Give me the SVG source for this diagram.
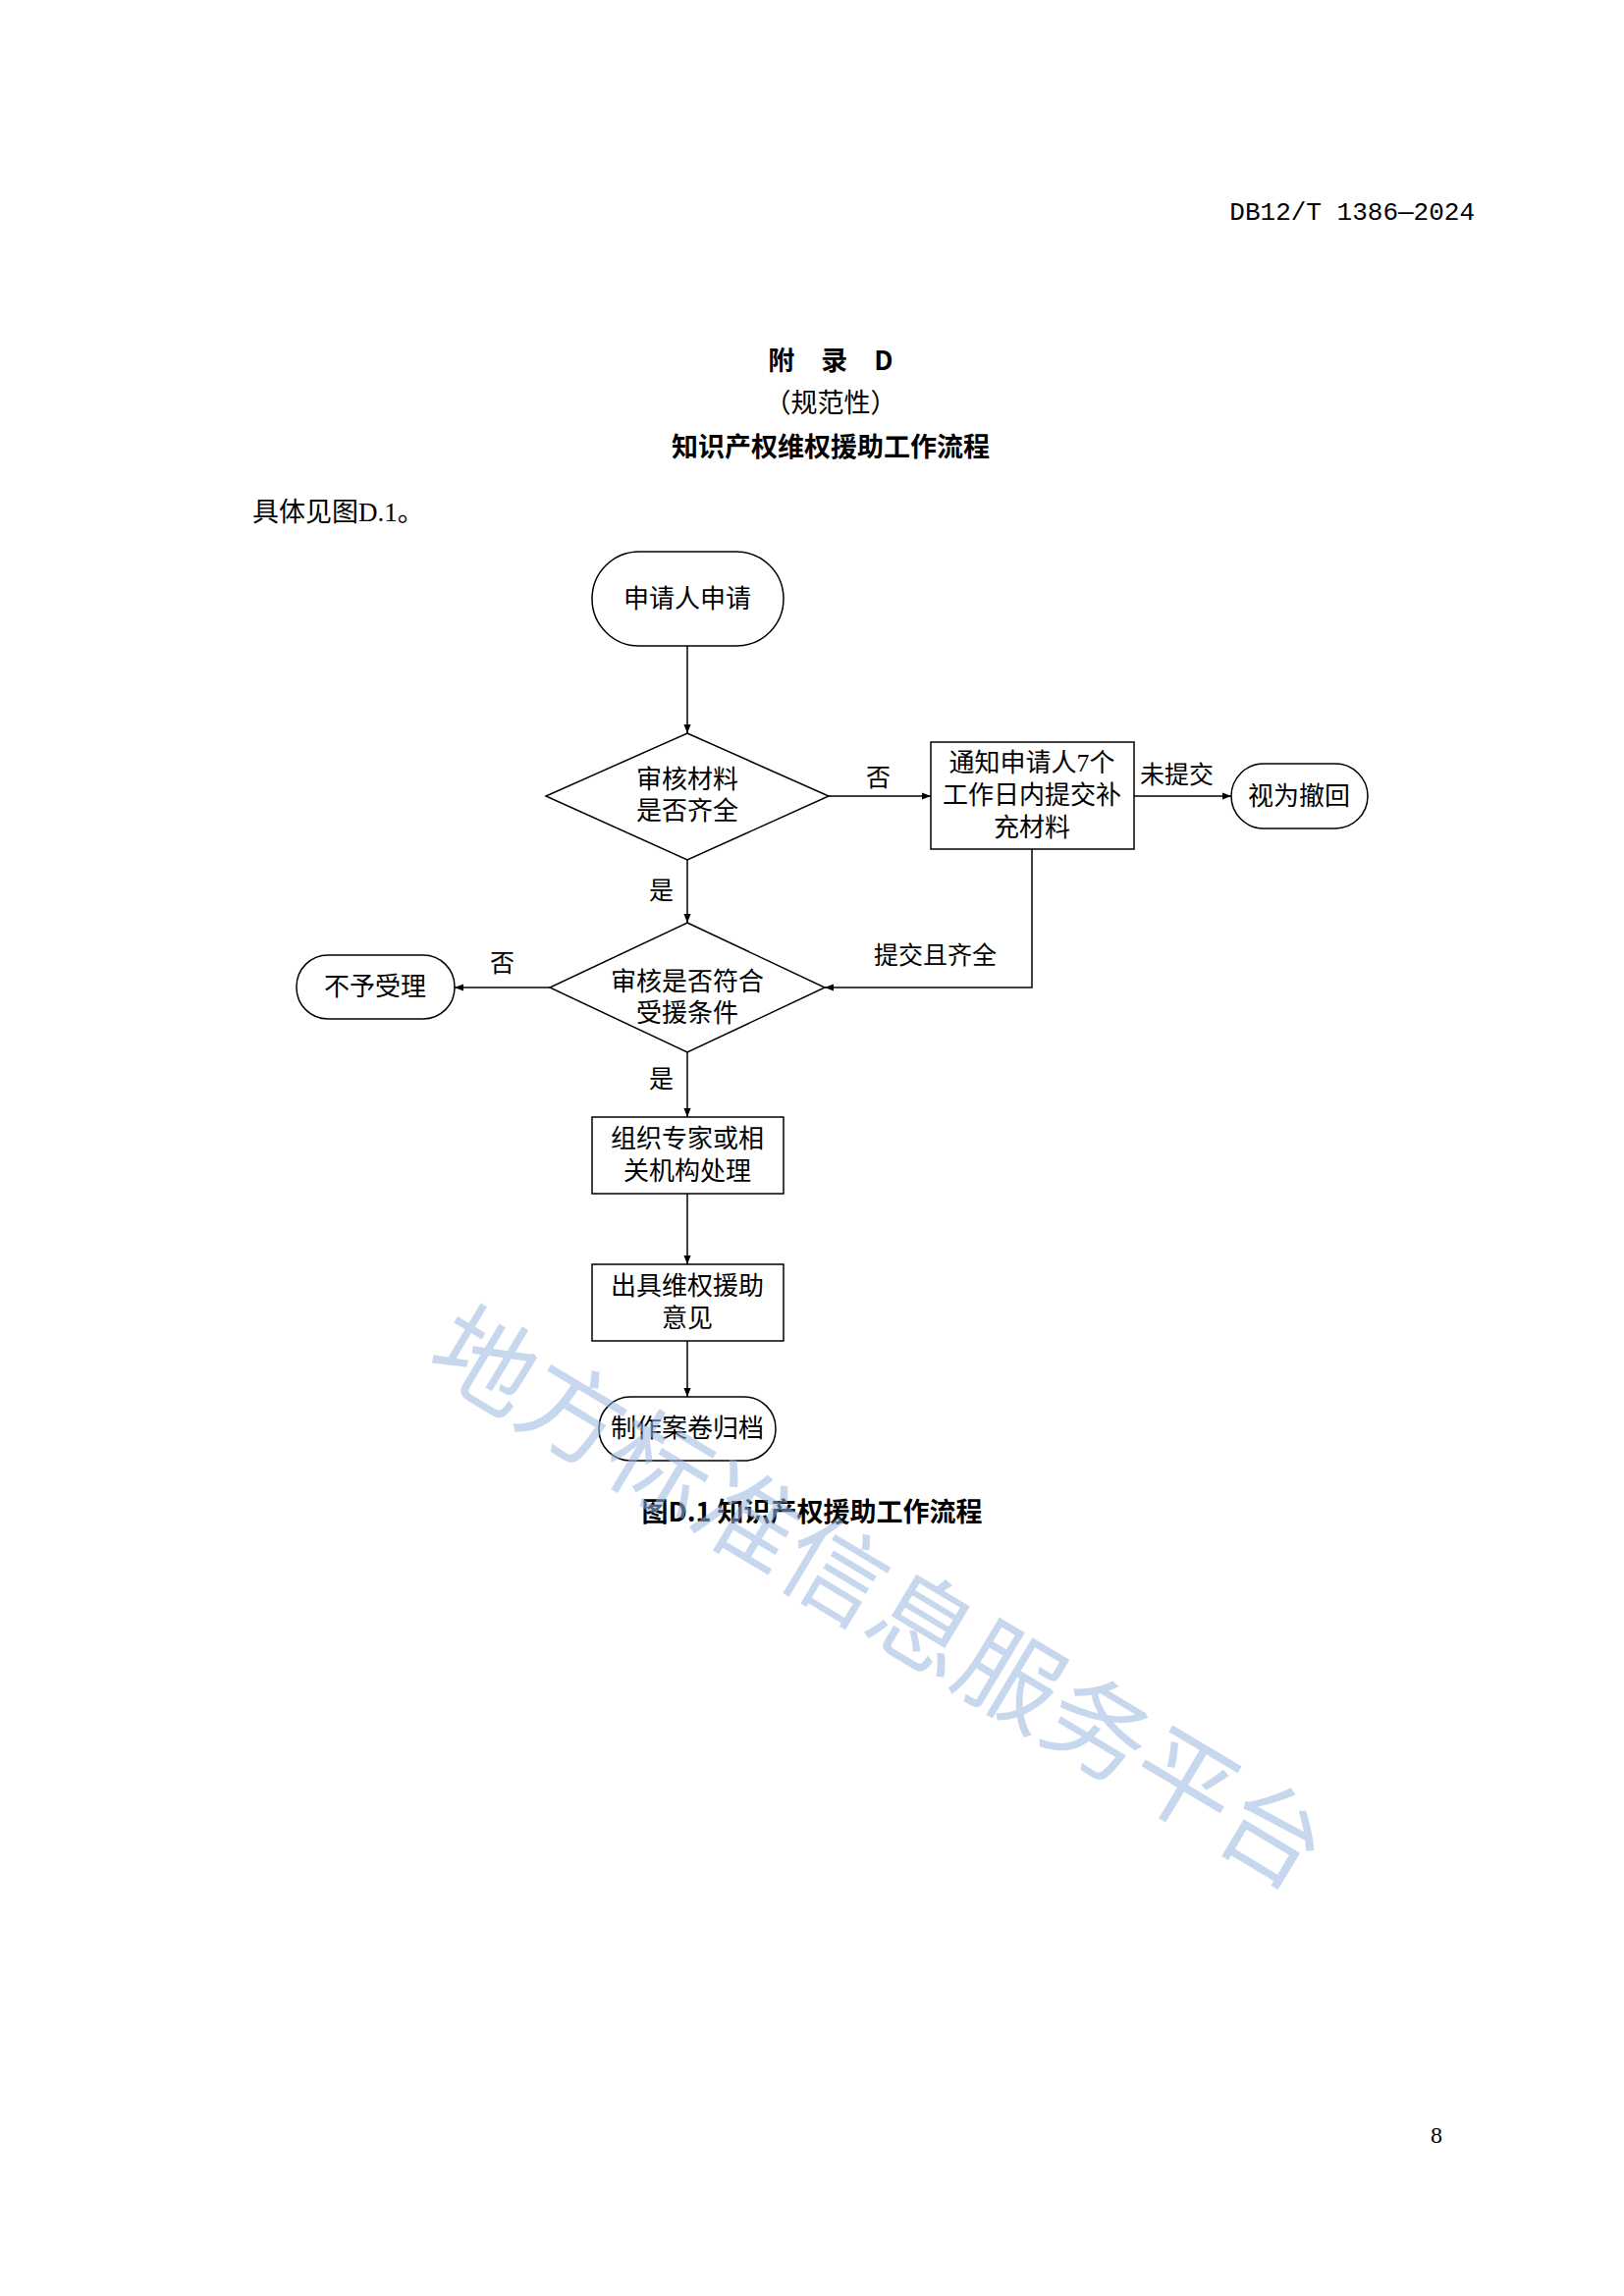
<svg xmlns="http://www.w3.org/2000/svg" width="1654" height="2339" viewBox="0 0 1654 2339">
<style>
text{font-family:"Liberation Serif","Noto Sans CJK SC",serif;fill:#000}
.n{font-size:26px;text-anchor:middle}
.l{font-size:25px}
.h{font-family:"Noto Sans CJK SC",sans-serif;font-size:27px;text-anchor:middle}
.s{fill:#fff;stroke:#000;stroke-width:1.5}
.c{fill:none;stroke:#000;stroke-width:1.5;marker-end:url(#a)}
</style>
<defs><marker id="a" viewBox="0 0 10 10" refX="10" refY="5" markerWidth="9" markerHeight="9" orient="auto" markerUnits="userSpaceOnUse"><path d="M0,1 L10,5 L0,9 z" fill="#000"/></marker></defs>
<rect width="1654" height="2339" fill="#fff"/>
<text x="1502" y="224" style="font-family:'Liberation Mono','Noto Sans CJK SC',monospace;font-size:26px;text-anchor:end">DB12/T 1386—2024</text>
<text class="h" x="846" y="377" font-weight="bold">附　录　D</text>
<text class="h" x="846" y="420">（规范性）</text>
<text class="h" x="846" y="465" font-weight="bold">知识产权维权援助工作流程</text>
<text x="257" y="531" font-size="27">具体见图D.1。</text>
<g id="connectors">
<path class="c" d="M700,658 V747"/>
<path class="c" d="M844,811 H948"/>
<path class="c" d="M1155,811 H1254"/>
<path class="c" d="M700,876 V940"/>
<path class="c" d="M1051,865 V1006 H840"/>
<path class="c" d="M560,1006 H463"/>
<path class="c" d="M700,1072 V1138"/>
<path class="c" d="M700,1216 V1288"/>
<path class="c" d="M700,1366 V1423"/>
<text class="l" x="882" y="801">否</text>
<text class="l" x="1161" y="798">未提交</text>
<text class="l" x="661" y="916">是</text>
<text class="l" x="890" y="982">提交且齐全</text>
<text class="l" x="499" y="990">否</text>
<text class="l" x="661" y="1108">是</text>
</g>
<g id="start"><rect class="s" x="603" y="562" width="195" height="96" rx="48"/><text class="n" x="700" y="619">申请人申请</text></g>
<g id="d1"><path class="s" d="M700,747 L844,811 L700,876 L556,811 z"/><text class="n" x="700" y="803">审核材料</text><text class="n" x="700" y="835">是否齐全</text></g>
<g id="notify"><rect class="s" x="948" y="756" width="207" height="109"/><text class="n" x="1051" y="786">通知申请人7个</text><text class="n" x="1051" y="819">工作日内提交补</text><text class="n" x="1051" y="852">充材料</text></g>
<g id="withdraw"><rect class="s" x="1254" y="778" width="139" height="66" rx="33"/><text class="n" x="1323" y="820">视为撤回</text></g>
<g id="d2"><path class="s" d="M700,940 L840,1006 L700,1072 L560,1006 z"/><text class="n" x="700" y="1009">审核是否符合</text><text class="n" x="700" y="1041">受援条件</text></g>
<g id="reject"><rect class="s" x="302" y="973" width="161" height="65" rx="32"/><text class="n" x="382" y="1014">不予受理</text></g>
<g id="org"><rect class="s" x="603" y="1138" width="195" height="78"/><text class="n" x="700" y="1169">组织专家或相</text><text class="n" x="700" y="1202">关机构处理</text></g>
<g id="opinion"><rect class="s" x="603" y="1288" width="195" height="78"/><text class="n" x="700" y="1319">出具维权援助</text><text class="n" x="700" y="1352">意见</text></g>
<g id="archive"><rect class="s" x="610" y="1423" width="180" height="65" rx="32"/><text class="n" x="700" y="1464">制作案卷归档</text></g>
<text class="h" x="827" y="1550" font-weight="bold">图D.1  知识产权援助工作流程</text>
<text x="1463" y="2183" font-size="24" text-anchor="middle">8</text>
<text x="876" y="1660" transform="rotate(31 876 1660)" style="font-family:'Noto Sans CJK SC',sans-serif;font-size:104px;text-anchor:middle;fill:#9ab8e0;opacity:0.55">地方标准信息服务平台</text>
</svg>
